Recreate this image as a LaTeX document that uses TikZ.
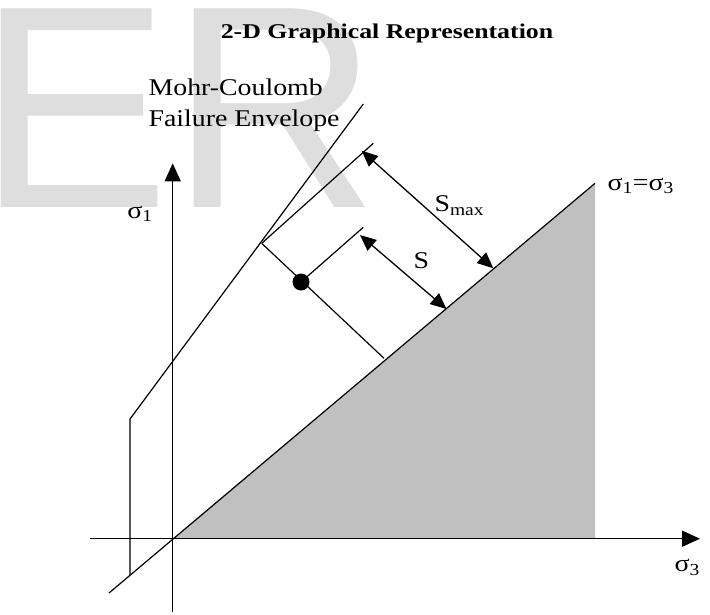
\documentclass[tikz,border=0pt]{standalone}
\usepackage{fontspec}
\setmainfont{Liberation Serif}
\newfontfamily\wmfont{Liberation Sans}
\usetikzlibrary{arrows.meta}
\definecolor{wmgray}{RGB}{222,222,222}
\definecolor{fillgray}{RGB}{192,192,192}
\newcommand{\hsc}[2][1.16]{\scalebox{#1}[1]{#2}}
\begin{document}
\begin{tikzpicture}[x=1pt,y=-1pt,line width=1.2pt,
  lbl/.style={inner sep=0pt,anchor=base west,font=\fontsize{24}{28}\selectfont},
  axisarr/.style={line width=1.4pt,-{Triangle[length=18pt,width=16pt]}},
  dimarr/.style={line width=1.3pt,{Triangle[length=16pt,width=14pt]}-{Triangle[length=16pt,width=14pt]}}]
\useasboundingbox (0,0) rectangle (710,614);
% watermark
\node[anchor=base west,inner sep=0pt,text=wmgray] (wm) at (-23,207) {\fontsize{289}{289}\wmfont ER};
% key points
\coordinate (O) at (172.7,538.7);
\coordinate (T) at (595,183.3);
\coordinate (C) at (595,538.7);
\coordinate (L0) at (109,593);
\coordinate (V0) at (130,575);
\coordinate (V1) at (130,419);
\coordinate (E1) at (363.3,104);
\coordinate (A) at (261.7,243.3);
\coordinate (F) at (384,358.3);
\coordinate (P1) at (373.3,143.3);
\coordinate (P2) at (363.3,227.3);
\coordinate (XL) at (90,538.7);
\coordinate (XR) at (700,538.7);
\coordinate (YB) at (172.7,612);
\coordinate (YT) at (172.7,163.3);
\coordinate (SmA) at (361.7,150.7);
\coordinate (SmB) at (493.3,268.3);
\coordinate (SA) at (360,235);
\coordinate (SB) at (446.5,309);
% shaded region
\fill[fillgray] (O) -- (T) -- (C) -- cycle;
% axes
\draw[axisarr] (XL) -- (XR);
\draw[axisarr] (YB) -- (YT);
% sigma1 = sigma3 line
\draw (L0) -- (T);
% envelope
\draw (V0) -- (V1) -- (E1);
% construction lines
\draw (A) -- (F);
\draw (A) -- (P1);
\node[circle,fill=black,minimum size=17pt,inner sep=0pt] (dot) at (301,282) {};
\draw (dot.center) -- (P2);
% dimension arrows
\draw[dimarr] (SmA) -- (SmB);
\draw[dimarr] (SA) -- (SB);
% labels
\node[anchor=base,inner sep=0pt,font=\fontsize{21}{25}\selectfont\bfseries] (title) at (387,38.3) {\hsc[1.23]{2-D Graphical Representation}};
\node[lbl] (mc1) at (148,95) {\hsc{Mohr-Coulomb}};
\node[lbl] (mc2) at (148,126.7) {\hsc{Failure Envelope}};
\node[lbl] (s1) at (126.7,218) {\hsc{σ\textsubscript{1}}};
\node[lbl] (s13) at (607,190) {\hsc{σ\textsubscript{1}=σ\textsubscript{3}}};
\node[lbl] (s3) at (674,571.7) {\hsc{σ\textsubscript{3}}};
\node[lbl] (Slab) at (413,268.3) {\hsc{S}};
\node[lbl] (Smax) at (434,211.7) {\hsc{S\textsubscript{max}}};
\end{tikzpicture}
\end{document}
